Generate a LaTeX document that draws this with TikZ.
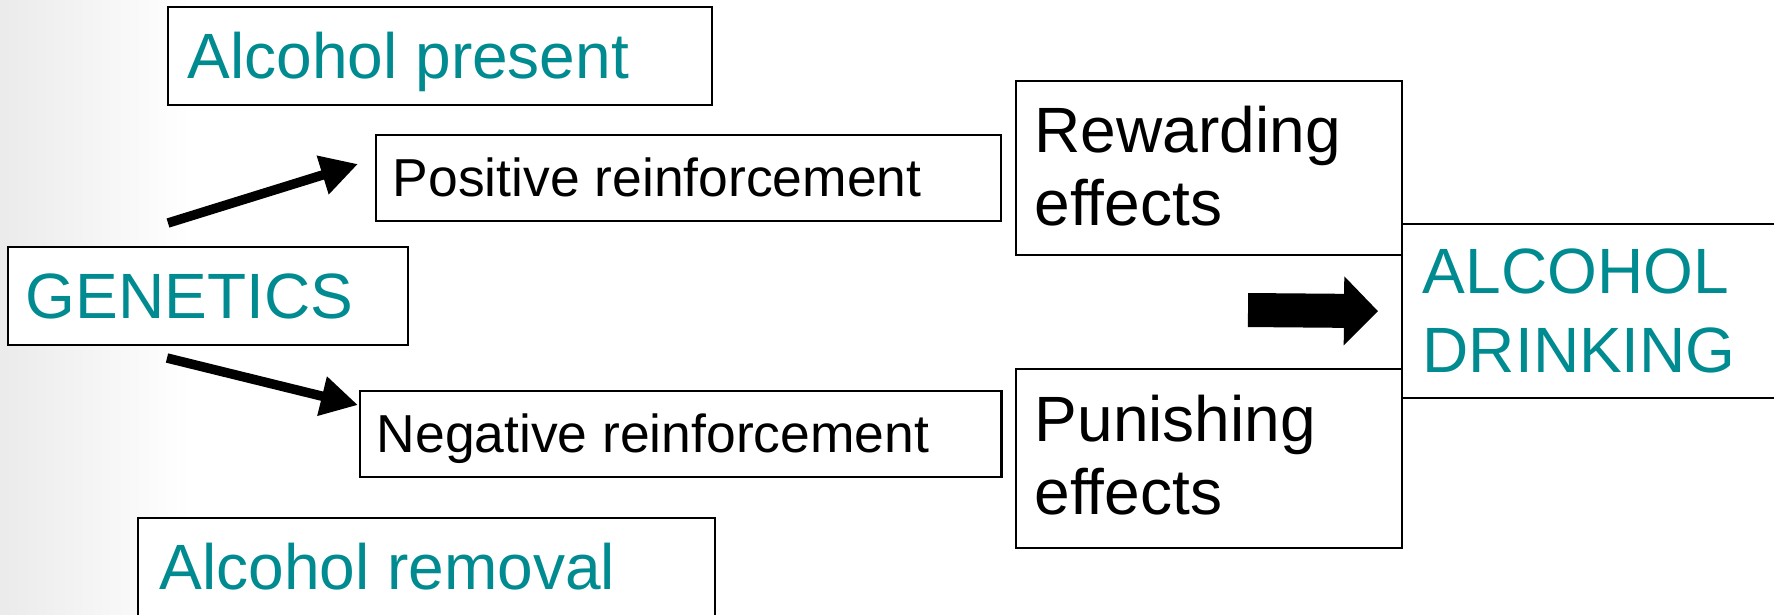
\documentclass[tikz,border=0pt]{standalone}
\usepackage{fontspec}
\setmainfont{Liberation Sans}
\usetikzlibrary{arrows.meta}

\definecolor{slideteal}{RGB}{0,139,145}

\tikzset{
  box/.style={draw, line width=0.6pt, fill=white, inner sep=0pt, anchor=north west},
  bigtext/.style={font=\fontsize{18.21}{20.49}\selectfont, inner sep=0pt, anchor=base west, align=left},
  smalltext/.style={font=\fontsize{15.2}{18}\selectfont, inner sep=0pt, anchor=base west},
  thinarrow/.style={line width=2.7pt, -{Triangle[length=0.37cm, width=0.38cm]}},
  fatarrow/.style={line width=0.34cm, -{Triangle[length=0.34cm, width=0.67cm]}}
}

\begin{document}
\begin{tikzpicture}[x=0.01cm, y=-0.01cm]
\useasboundingbox (0,0) rectangle (1774,614);
\clip (0,0) rectangle (1774,614);
\shade [left color=black!8, right color=white] (0,0) rectangle (190,614);

% boxes
\node [box, minimum width=5.44cm, minimum height=0.98cm] (pres) at (167,6) {};
\node [box, minimum width=4.00cm, minimum height=0.98cm] (gen) at (7,246) {};
\node [box, minimum width=6.25cm, minimum height=0.86cm] (pos) at (375,134) {};
\node [box, minimum width=6.41cm, minimum height=0.86cm] (neg) at (359,390) {};
\node [box, minimum width=5.77cm, minimum height=1.20cm] (rem) at (137,517) {};
\node [box, minimum width=3.86cm, minimum height=1.74cm] (rew) at (1015,80) {};
\node [box, minimum width=3.86cm, minimum height=1.79cm] (pun) at (1015,368) {};
\node [box, minimum width=4.20cm, minimum height=1.74cm] (drink) at (1401,223) {};

% labels (two-line ones sit on their last baseline)
\node [bigtext, slideteal] (prestxt) at (187,78) {Alcohol present};
\node [bigtext, slideteal] (gentxt) at (25,318) {GENETICS};
\node [smalltext] (postxt) at (392,196) {Positive reinforcement};
\node [smalltext] (negtxt) at (376,452) {Negative reinforcement};
\node [bigtext, slideteal] (remtxt) at (159,589) {Alcohol removal};
\node [bigtext] (rewtxt) at (1034,225) {Rewarding\\effects};
\node [bigtext] (puntxt) at (1034,514) {Punishing\\effects};
\node [bigtext, slideteal, font=\fontsize{18.21}{22.19}\selectfont] (drinktxt) at (1422,372) {ALCOHOL\\DRINKING};

% arrows
\coordinate (gup) at (168,223);
\coordinate (pup) at (358,164);
\coordinate (gdown) at (167,358);
\coordinate (ndown) at (358,405);
\coordinate (bartail) at (1248,310);
\draw [thinarrow] (gup) -- (pup);
\draw [thinarrow] (gdown) -- (ndown);
\draw [fatarrow] (bartail) -- ([xshift=-0.23cm]drink.west);
\end{tikzpicture}
\end{document}
